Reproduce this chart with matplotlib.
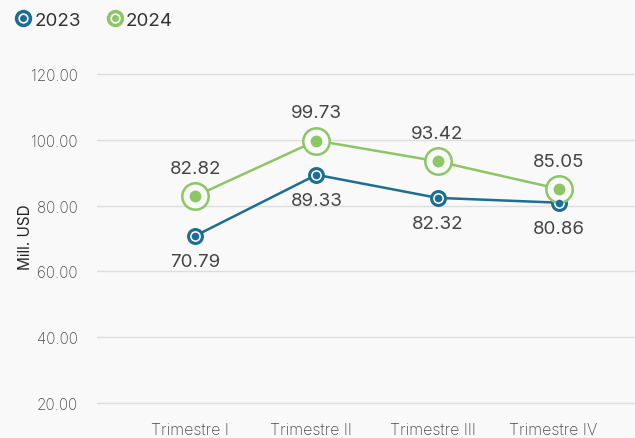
import matplotlib
matplotlib.use('Agg')
import matplotlib.pyplot as plt
import matplotlib.transforms as mtrans
from matplotlib.lines import Line2D

# Data
quarters = ['Trimestre I', 'Trimestre II', 'Trimestre III', 'Trimestre IV']
vals_2023 = [70.79, 89.33, 82.32, 80.86]
vals_2024 = [82.82, 99.73, 93.42, 85.05]
yticks = [20, 40, 60, 80, 100, 120]

blue = '#1c6e94'
green = '#8cc665'
bg = '#f9f9f9'

plt.rcParams['font.family'] = ['Inter', 'Roboto', 'DejaVu Sans']

fig = plt.figure(figsize=(6.35, 4.39), dpi=100, facecolor=bg)
ax = fig.add_axes([0.153, 0.055, 0.847, 0.809])
ax.set_facecolor(bg)

x = list(range(len(quarters)))

# 2023
ax.plot(x, vals_2023, color=blue, lw=1.8, zorder=3)
ax.plot(x, vals_2023, ls='none', marker='o', ms=10, mfc='white', mec=blue, mew=2.2, zorder=4)
ax.plot(x, vals_2023, ls='none', marker='o', ms=4.5, mfc=blue, mec=blue, zorder=5)

# 2024
ax.plot(x, vals_2024, color=green, lw=1.8, zorder=3)
ax.plot(x, vals_2024, ls='none', marker='o', ms=19, mfc=bg, mec=green, mew=1.8, zorder=4)
ax.plot(x, vals_2024, ls='none', marker='o', ms=7.5, mfc=green, mec=green, zorder=5)

for xi, v in zip(x, vals_2023):
    ax.annotate(f'{v:.2f}', (xi, v), xytext=(0, -18.5), textcoords='offset points',
                ha='center', va='center', fontsize=13.5, color='#444444')
for xi, v in zip(x, vals_2024):
    ax.annotate(f'{v:.2f}', (xi, v), xytext=(0, 20), textcoords='offset points',
                ha='center', va='center', fontsize=13.5, color='#444444')

ax.set_xlim(-0.81, 3.63)
ax.set_ylim(16.7, 124.6)
ax.set_yticks(yticks)
ax.set_yticklabels([f'{t:.2f}' for t in yticks])
ax.set_xticks(x)
ax.set_xticklabels(quarters)
ax.tick_params(axis='both', length=0, labelcolor='#484848')
ax.tick_params(axis='y', pad=14, labelsize=11)
ax.tick_params(axis='x', pad=6, labelsize=11.5)
for lbl in ax.get_xticklabels() + ax.get_yticklabels():
    lbl.set_fontweight('light')
shift = mtrans.ScaledTranslation(-5 / 100, 0, fig.dpi_scale_trans)
for lbl in ax.get_xticklabels():
    lbl.set_transform(lbl.get_transform() + shift)

ax.grid(axis='y', color='#dedede', lw=1)
ax.set_axisbelow(True)
for s in ax.spines.values():
    s.set_visible(False)

ax.set_ylabel('Mill. USD', fontsize=11, color='#222222')
ax.yaxis.set_label_coords(-0.12, 0.5)

# legend
h1 = Line2D([], [], ls='none', marker='o', ms=10, mfc='white', mec=blue, mew=2.5)
h2 = Line2D([], [], ls='none', marker='o', ms=10, mfc='white', mec=green, mew=2.5)
d1 = Line2D([], [], ls='none', marker='o', ms=4, mfc=blue, mec=blue)
d2 = Line2D([], [], ls='none', marker='o', ms=4, mfc=green, mec=green)
leg = fig.legend([(h1, d1), (h2, d2)], ['2023', '2024'], loc='upper left',
                 bbox_to_anchor=(-0.005, 1.01), ncol=2, frameon=False, fontsize=13.5,
                 handlelength=1.0, handletextpad=0.1, columnspacing=1.3,
                 labelcolor='#333333')

fig.savefig('out.png', dpi=100, facecolor=bg)
